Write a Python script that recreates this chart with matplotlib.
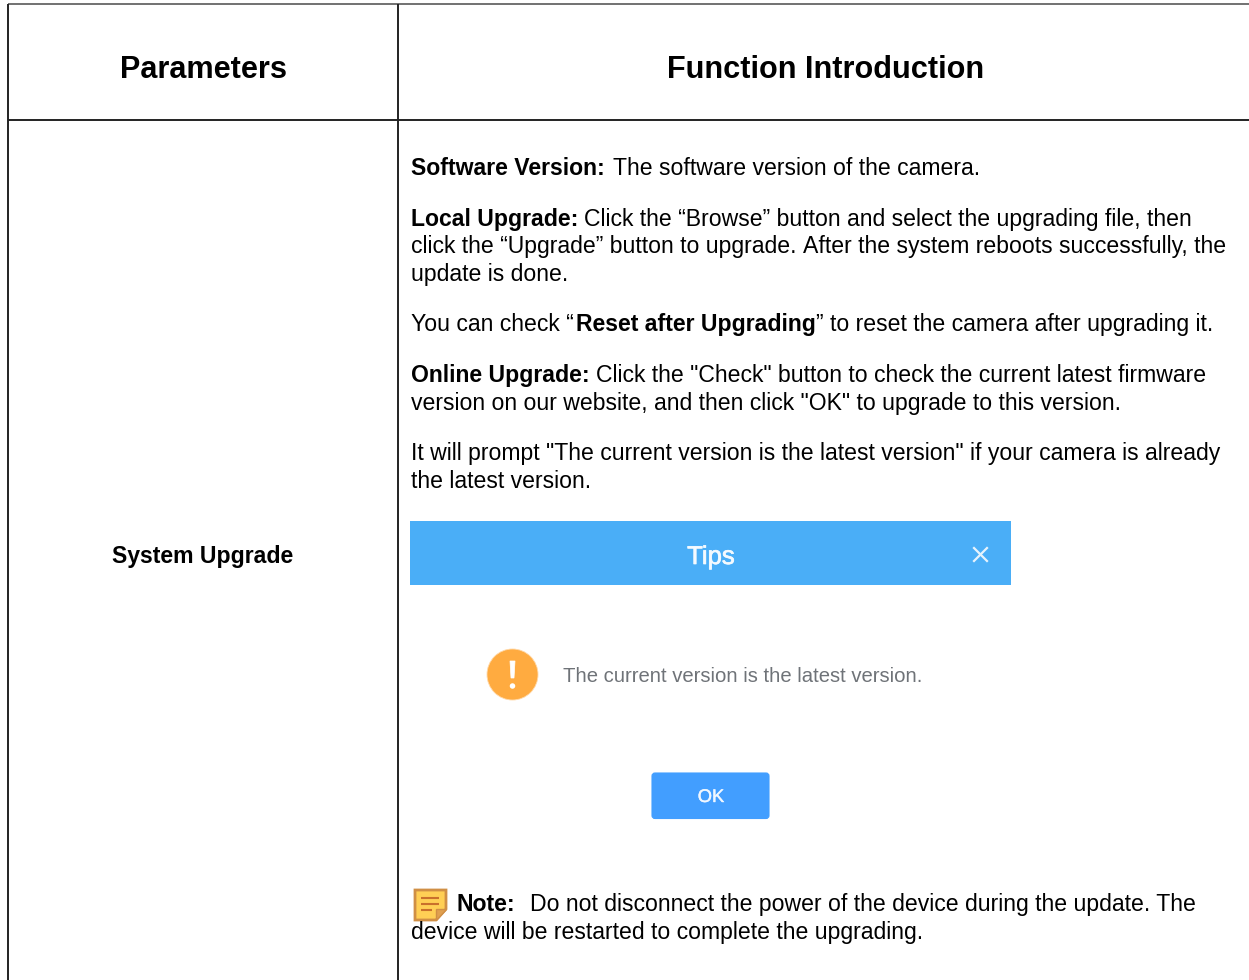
import matplotlib
matplotlib.use("Agg")
import matplotlib.pyplot as plt
import matplotlib.patheffects as pe
from matplotlib.patches import Rectangle, FancyBboxPatch, Ellipse, Polygon

plt.rcParams['font.family'] = ['Liberation Sans', 'DejaVu Sans']

# Table text
headers = ["Parameters", "Function Introduction"]
row_label = "System Upgrade"
# (x, baseline y, text, bold)
body_runs = [
    (411, 175, "Software Version:", True),
    (613, 175, "The software version of the camera.", False),
    (411, 226, "Local Upgrade:", True),
    (584, 226, "Click the “Browse” button and select the upgrading file, then", False),
    (411, 253, "click the “Upgrade” button to upgrade.", False),
    (803.5, 253, "After the system reboots successfully, the", False),
    (411, 281, "update is done.", False),
    (411, 331, "You can check “", False),
    (576, 331, "Reset after Upgrading", True),
    (816, 331, "” to reset the camera after upgrading it.", False),
    (411, 382, "Online Upgrade:", True),
    (596, 382, "Click the \"Check\" button to check the current latest firmware", False),
    (411, 410, "version on our website, and then click \"OK\" to upgrade to this version.", False),
    (411, 460, "It will prompt \"The current version is the latest version\" if your camera is already", False),
    (411, 488, "the latest version.", False),
    (457, 911, "Note:", True),
    (530, 911, "Do not disconnect the power of the device during the update. The", False),
    (411, 939, "device will be restarted to complete the upgrading.", False),
]
dialog_title = "Tips"
dialog_message = "The current version is the latest version."
dialog_button = "OK"

fig = plt.figure(figsize=(12.49, 9.80), dpi=100, facecolor="white")
ax = fig.add_axes([0, 0, 1, 1])
ax.set_xlim(0, 1249)
ax.set_ylim(980, 0)
ax.axis("off")

# Table rules
line = dict(color="#222222", lw=1.4, solid_capstyle="butt")
ax.plot([8, 1249], [4.5, 4.5], color="#666666", lw=1.3, solid_capstyle="butt")
ax.plot([8, 1249], [120, 120], **line)
ax.plot([8.5, 8.5], [4, 980], **line)
ax.plot([398, 398], [4, 980], **line)

# Headers and row label
ax.text(203.5, 78, headers[0], ha="center", va="baseline", fontsize=22.1, fontweight="bold", color="black")
ax.text(825.5, 78, headers[1], ha="center", va="baseline", fontsize=22.1, fontweight="bold", color="black")
ax.text(203, 563, row_label, ha="center", va="baseline", fontsize=16.6, fontweight="bold", color="black")

# Body paragraphs
for x, y, s, bold in body_runs:
    ax.text(x, y, s, ha="left", va="baseline", fontsize=16.6,
            fontweight="bold" if bold else "normal", color="black")

# Dialog screenshot
ax.add_patch(Rectangle((410, 521), 601, 63.5, fc="#4aaef7", ec="none"))
ax.text(711, 564, dialog_title, ha="center", va="baseline", fontsize=18.5, color="#f4faff",
        path_effects=[pe.withStroke(linewidth=0.5, foreground="#f4faff")])
ax.plot([974, 987], [548, 561], color="#e6f3fd", lw=1.6)
ax.plot([974, 987], [561, 548], color="#e6f3fd", lw=1.6)

ax.add_patch(Ellipse((512.5, 674.5), 51, 51, fc="#ffab40", ec="#ffd9a8", lw=0.6))
ax.add_patch(Polygon([[510, 661], [515, 661], [514, 678], [511, 678]], closed=True,
                     fc="white", ec="white", lw=0.5))
ax.add_patch(Ellipse((512.5, 686), 5.5, 5.5, fc="white", ec="none"))
ax.text(563, 681.5, dialog_message, ha="left", va="baseline", fontsize=14.6, color="#6f7378")

ax.add_patch(FancyBboxPatch((652, 773), 117, 45.5, boxstyle="round,pad=0,rounding_size=3",
                            fc="#429eff", ec="#429eff", lw=0.8))
ax.text(711, 802, dialog_button, ha="center", va="baseline", fontsize=13.2, color="#f0f7ff",
        path_effects=[pe.withStroke(linewidth=0.3, foreground="#f0f7ff")])

# Note icon
ax.add_patch(Polygon([[415, 890], [446, 890], [446, 909], [436, 920], [415, 920]], closed=True,
                     fc="#ffcf55", ec="#d08f45", lw=2.0))
ax.add_patch(Polygon([[446, 909], [436, 909], [436, 920]], closed=True, fc="#e0a050", ec="#d08f45", lw=1))
for x0, x1, y in [(421, 439, 898), (421, 439, 904), (421, 432, 910)]:
    ax.plot([x0, x1], [y, y], color="#c9702c", lw=1.5, solid_capstyle="butt")

fig.savefig("out.png", dpi=100, facecolor="white")
